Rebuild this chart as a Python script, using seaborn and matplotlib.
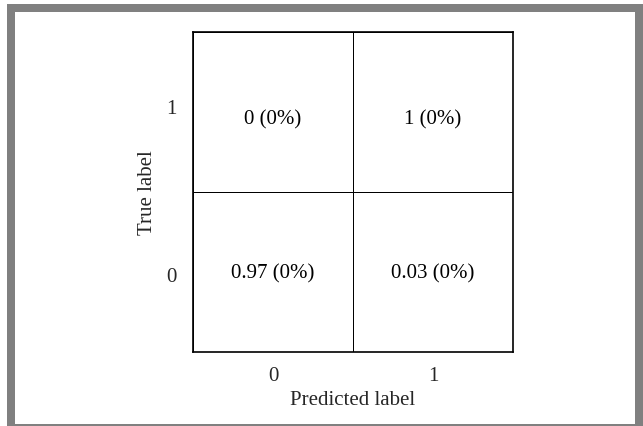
import numpy as np
import pandas as pd
import matplotlib
matplotlib.use("Agg")
import matplotlib.pyplot as plt
from matplotlib.colors import ListedColormap
from matplotlib.patches import Rectangle
import seaborn as sns

# confusion matrix values, top row is true label 1
true_labels = ["1", "0"]
pred_labels = ["0", "1"]
row_1 = [0, 1]
row_0 = [0.97, 0.03]
pct_1 = ["0%", "0%"]
pct_0 = ["0%", "0%"]

sns.set_style("white")
plt.rcParams['font.family'] = ['Liberation Serif', 'DejaVu Serif']

cm = pd.DataFrame([row_1, row_0], index=true_labels, columns=pred_labels)
annot = np.array([[f"{v:g} ({p})" for v, p in zip(row_1, pct_1)],
                  [f"{v:g} ({p})" for v, p in zip(row_0, pct_0)]])

fig = plt.figure(figsize=(6.43, 4.27), dpi=100)
W, H = 643, 427
ax = fig.add_axes([193 / W, (H - 353) / H, 320 / W, 320 / H])

sns.heatmap(cm, annot=annot, fmt="", cmap=ListedColormap(["white"]), cbar=False,
            linewidths=0.7, linecolor="black", ax=ax,
            annot_kws={"fontsize": 15, "color": "black"})

# the reference has its labels sitting slightly off the cell centres
for t in ax.texts:
    x, y = t.get_position()
    t.set_position((x, y + 0.04 if y < 1 else y + 0.008))
ax.set_yticks([0.48, 1.53])
ax.set_yticklabels(true_labels, rotation=0)

for s in ax.spines.values():
    s.set_visible(True)
    s.set_color("black")
    s.set_linewidth(1.2)

ax.tick_params(length=0, labelsize=15)
ax.tick_params(axis="x", pad=10)
ax.tick_params(axis="y", pad=12)
ax.set_xlabel("Predicted label", fontsize=15, labelpad=3.5)
ax.set_ylabel("True label", fontsize=15, labelpad=6.5)

# grey frame around the picture
gray = "#808080"
for x0, y0, x1, y1 in [(7, 5, 643, 13), (7, 5, 15, 427), (635, 5, 643, 427), (7, 425, 643, 427)]:
    fig.add_artist(Rectangle((x0 / W, 1 - y1 / H), (x1 - x0) / W, (y1 - y0) / H,
                             transform=fig.transFigure, color=gray, lw=0))

fig.savefig("out.png", dpi=100)
